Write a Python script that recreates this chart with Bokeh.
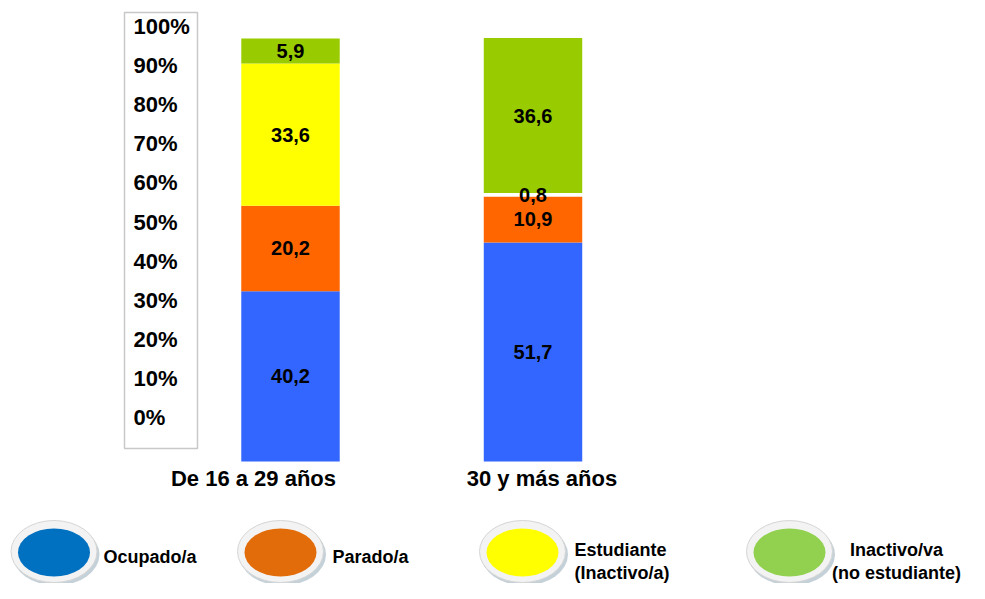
from bokeh.plotting import figure
from bokeh.models import ColumnDataSource, Range1d
from bokeh.core.properties import value
from bokeh.embed import file_html
from bokeh.resources import INLINE

# ---------------- data ----------------
categories = ["De 16 a 29 años", "30 y más años"]
ocupado = [40.2, 51.7]
parado = [20.2, 10.9]
estudiante = [33.6, 0.8]
inactivo = [5.9, 36.6]
series_values = [ocupado, parado, estudiante, inactivo]
legend_lines = [["Ocupado/a"], ["Parado/a"], ["Estudiante", "(Inactivo/a)"],
                ["Inactivo/va", "(no estudiante)"]]
bar_colors = [["#3366ff", "#3366ff"], ["#ff6600", "#ff6600"],
              ["#ffff00", "#ffffff"], ["#99cc00", "#99cc00"]]
legend_colors = ["#0070c0", "#e36c0a", "#ffff00", "#92d050"]
ytick_values = list(range(0, 101, 10))
ytick_labels = [f"{v}%" for v in ytick_values]

FONT = value("Liberation Sans")
W, H = 969, 583
XPX = 242.5      # px per category step
X0 = 290.0       # px of first category
Y0 = 461.0       # px of value 0 (bars)
YS = 4.235       # px per percent (bars)
L0 = 417.0       # px of 0% tick label
LS = 3.91        # px per percent (tick labels)

p = figure(width=W, height=H, output_backend="svg", toolbar_location=None,
           x_range=Range1d(-X0 / XPX, (W - X0) / XPX),
           y_range=Range1d(-(H - Y0) / YS, Y0 / YS),
           x_axis_type=None, y_axis_type=None, min_border=0,
           outline_line_color=None, background_fill_color="white")
p.extra_x_ranges = {"px": Range1d(0, W)}
p.extra_y_ranges = {"py": Range1d(H, 0),
                    "lab": Range1d(-(H - L0) / LS, L0 / LS)}

# ---------------- stacked bars ----------------
xs, bottoms, tops, colors, labels, mids = [], [], [], [], [], []
cum = [0.0] * len(categories)
for s, vals in enumerate(series_values):
    for i, v in enumerate(vals):
        xs.append(i)
        bottoms.append(cum[i])
        tops.append(cum[i] + v)
        mids.append(cum[i] + v / 2)
        colors.append(bar_colors[s][i])
        labels.append(f"{v:.1f}".replace(".", ","))
        cum[i] += v
src = ColumnDataSource(dict(x=xs, bottom=bottoms, top=tops, color=colors,
                            label=labels, mid=mids))
p.vbar(x="x", bottom="bottom", top="top", width=0.406, fill_color="color",
       line_color=None, source=src)
p.text(x="x", y="mid", text="label", source=src, text_align="center",
       text_baseline="middle", text_font=FONT, text_font_style="bold",
       text_font_size="20px", text_color="black")

# ---------------- y tick labels in a box ----------------
p.quad(left=[124], right=[197], top=[12], bottom=[448], x_range_name="px",
       y_range_name="py", fill_color=None, line_color="#c8c8c8", line_width=1.5)
tsrc = ColumnDataSource(dict(x=[133] * len(ytick_values), y=ytick_values,
                             t=ytick_labels))
p.text(x="x", y="y", text="t", source=tsrc, x_range_name="px",
       y_range_name="lab", text_align="left", text_baseline="middle",
       text_font=FONT, text_font_style="bold", text_font_size="22px",
       text_color="black")

# ---------------- category labels ----------------
csrc = ColumnDataSource(dict(x=list(range(len(categories))),
                             y=[478] * len(categories), t=categories,
                             off=[-37, 9]))
p.text(x="x", y="y", text="t", x_offset="off", source=csrc, y_range_name="py",
       text_align="center", text_baseline="middle", text_font=FONT,
       text_font_style="bold", text_font_size="22px", text_color="black")

# ---------------- legend ----------------
leg_cx = [53.5, 280, 522, 789]
leg_cy = 551
text_x = [103, 332, 574, 896]
text_align = ["left", "left", "left", "center"]
p.ellipse(x=[c + 2 for c in leg_cx], y=[leg_cy + 3] * 4, width=87, height=62,
          x_range_name="px", y_range_name="py", fill_color="#7f98a8",
          fill_alpha=0.45, line_color=None)
p.ellipse(x=leg_cx, y=[leg_cy] * 4, width=86, height=62, x_range_name="px",
          y_range_name="py", fill_color="#f3f3f3", line_color="#d5d5d5",
          line_width=1)
p.ellipse(x=leg_cx, y=[leg_cy + 1] * 4, width=72, height=48, x_range_name="px",
          y_range_name="py", fill_color=legend_colors, line_color=None)
lx, ly, lt, la = [], [], [], []
for k, lines in enumerate(legend_lines):
    ys = [556] if len(lines) == 1 else [549, 572]
    for line, yy in zip(lines, ys):
        lx.append(text_x[k]); ly.append(yy); lt.append(line); la.append(text_align[k])
lsrc = ColumnDataSource(dict(x=lx, y=ly, t=lt, a=la))
p.text(x="x", y="y", text="t", text_align="a", source=lsrc, x_range_name="px",
       y_range_name="py", text_baseline="middle", text_font=FONT,
       text_font_style="bold", text_font_size="18px", text_color="black")

open("out.html", "w").write(file_html(p, INLINE))
